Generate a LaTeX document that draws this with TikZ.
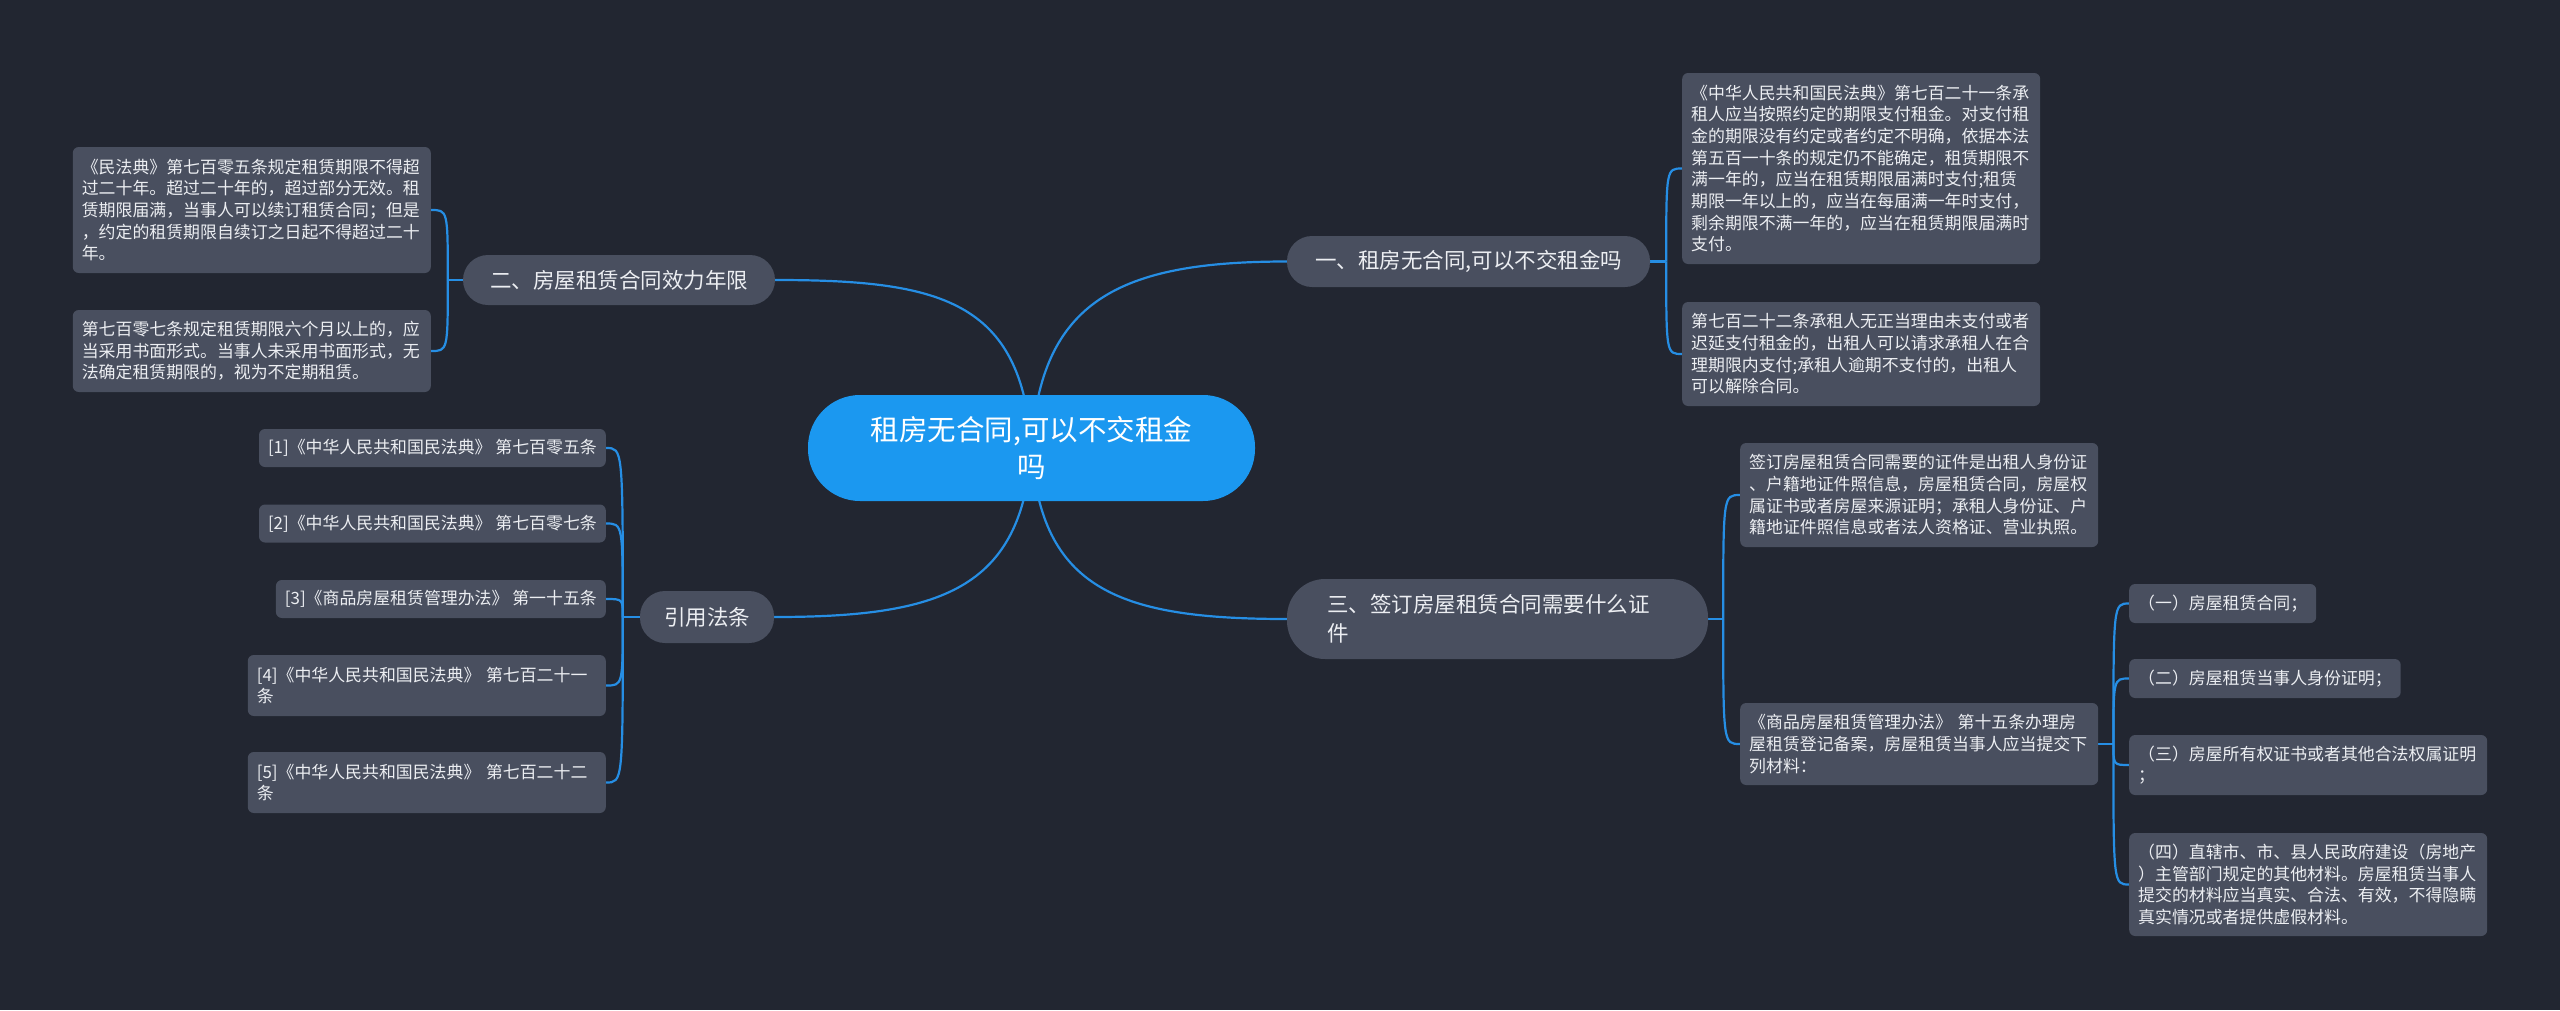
\documentclass[tikz,border=0pt]{standalone}
\usepackage{fontspec}
\setmainfont{Noto Sans CJK SC}
\usetikzlibrary{calc}
\definecolor{bgc}{RGB}{34,38,49}
\definecolor{nodec}{RGB}{73,79,95}
\definecolor{rootc}{RGB}{27,152,240}
\definecolor{linec}{RGB}{38,142,228}
\definecolor{txt}{RGB}{236,238,242}
\pgfdeclarelayer{back}
\pgfdeclarelayer{edges}
\pgfsetlayers{back,edges,main}
\begin{document}
\begin{tikzpicture}[x=1pt,y=-1pt,
  leaf/.style={fill=nodec, rounded corners=6pt, text=txt, inner xsep=9pt, inner ysep=3pt,
    font=\fontsize{16.9}{21.7}\selectfont, align=left},
  leafw/.style={leaf, text width=340pt},
  branch/.style={fill=nodec, text=txt, font=\fontsize{21.5}{29}\selectfont, inner sep=0pt, align=left},
  conn/.style={draw=linec, line width=2.2pt}]
\useasboundingbox (0,0) rectangle (2560,1010);
\begin{pgfonlayer}{back}
\fill[bgc] (0,0) rectangle (2560,1010);
\end{pgfonlayer}

% root
\node[fill=rootc, text=white, rounded corners=52pt, minimum width=447pt, minimum height=106pt,
  inner sep=0pt, font=\fontsize{28.5}{37}\selectfont, align=center] (root) at (1031.5,448)
  {租房无合同,可以不交租金\\吗};

% branches
\node[branch, minimum width=363pt, minimum height=51pt, rounded corners=25pt] (b1) at (1468.5,261.5)
  {一、租房无合同,可以不交租金吗};
\node[branch, minimum width=312pt, minimum height=50pt, rounded corners=25pt] (b2) at (619,280)
  {二、房屋租赁合同效力年限};
\node[branch, minimum width=421pt, minimum height=80pt, rounded corners=38pt, text width=341pt] (b3) at (1497.5,619)
  {三、签订房屋租赁合同需要什么证\\件};
\node[branch, minimum width=134pt, minimum height=52pt, rounded corners=25pt] (b4) at (707,617)
  {引用法条};

% leaves of branch 1
\node[leafw, minimum height=191pt, anchor=west] (l1a) at (1682,168.5)
  {《中华人民共和国民法典》第七百二十一条承\\租人应当按照约定的期限支付租金。对支付租\\金的期限没有约定或者约定不明确，依据本法\\第五百一十条的规定仍不能确定，租赁期限不\\满一年的，应当在租赁期限届满时支付;租赁\\期限一年以上的，应当在每届满一年时支付，\\剩余期限不满一年的，应当在租赁期限届满时\\支付。};
\node[leafw, minimum height=104pt, anchor=west] (l1b) at (1682,354)
  {第七百二十二条承租人无正当理由未支付或者\\迟延支付租金的，出租人可以请求承租人在合\\理期限内支付;承租人逾期不支付的，出租人\\可以解除合同。};

% leaves of branch 3
\node[leafw, minimum height=104pt, anchor=west] (l3a) at (1740,495)
  {签订房屋租赁合同需要的证件是出租人身份证\\、户籍地证件照信息，房屋租赁合同，房屋权\\属证书或者房屋来源证明；承租人身份证、户\\籍地证件照信息或者法人资格证、营业执照。};
\node[leafw, minimum height=82pt, anchor=west] (l3b) at (1740,744)
  {《商品房屋租赁管理办法》 第十五条办理房\\屋租赁登记备案，房屋租赁当事人应当提交下\\列材料：};

% sub-leaves
\node[leaf, minimum height=39pt, anchor=west] (s1) at (2129,603.5) {（一）房屋租赁合同；};
\node[leaf, minimum height=39pt, anchor=west] (s2) at (2129,678.5) {（二）房屋租赁当事人身份证明；};
\node[leafw, minimum height=60pt, anchor=west] (s3) at (2129,765)
  {（三）房屋所有权证书或者其他合法权属证明\\；};
\node[leafw, minimum height=103pt, anchor=west] (s4) at (2129,884.5)
  {（四）直辖市、市、县人民政府建设（房地产\\）主管部门规定的其他材料。房屋租赁当事人\\提交的材料应当真实、合法、有效，不得隐瞒\\真实情况或者提供虚假材料。};

% leaves of branch 2
\node[leafw, minimum height=126pt, anchor=east] (l2a) at (431,210)
  {《民法典》第七百零五条规定租赁期限不得超\\过二十年。超过二十年的，超过部分无效。租\\赁期限届满，当事人可以续订租赁合同；但是\\，约定的租赁期限自续订之日起不得超过二十\\年。};
\node[leafw, minimum height=82pt, anchor=east] (l2b) at (431,351)
  {第七百零七条规定租赁期限六个月以上的，应\\当采用书面形式。当事人未采用书面形式，无\\法确定租赁期限的，视为不定期租赁。};

% leaves of branch 4
\node[leaf, minimum height=38pt, anchor=east] (r1) at (606,448) {[1]《中华人民共和国民法典》 第七百零五条};
\node[leaf, minimum height=38pt, anchor=east] (r2) at (606,523.5) {[2]《中华人民共和国民法典》 第七百零七条};
\node[leaf, minimum height=38pt, anchor=east] (r3) at (606,599) {[3]《商品房屋租赁管理办法》 第一十五条};
\node[leafw, minimum height=61pt, anchor=east] (r4) at (606,685.5) {[4]《中华人民共和国民法典》 第七百二十一\\条};
\node[leafw, minimum height=61pt, anchor=east] (r5) at (606,782.5) {[5]《中华人民共和国民法典》 第七百二十二\\条};

% junctions
\coordinate (j1) at ($(b1.east)+(16,0)$);
\coordinate (j3) at ($(b3.east)+(15,0)$);
\coordinate (js) at ($(l3b.east)+(15,0)$);
\coordinate (j2) at ($(b2.west)+(-15,0)$);
\coordinate (j4) at ($(b4.west)+(-17,0)$);

\begin{pgfonlayer}{edges}
\draw[conn] (root.center) .. controls (1040,300) and (1120,261.5) .. (b1.west);
\draw[conn] (root.center) .. controls (1022,300) and (940,280) .. (b2.east);
\draw[conn] (root.center) .. controls (1040,590) and (1120,619) .. (b3.west);
\draw[conn] (root.center) .. controls (1022,590) and (940,617) .. (b4.east);

\draw[conn] (b1.east) -- (j1);
\draw[conn] (j1) .. controls (j1 |- l1a.west) .. (l1a.west);
\draw[conn] (j1) .. controls (j1 |- l1b.west) .. (l1b.west);

\draw[conn] (b3.east) -- (j3);
\draw[conn] (j3) .. controls (j3 |- l3a.west) .. (l3a.west);
\draw[conn] (j3) .. controls (j3 |- l3b.west) .. (l3b.west);

\draw[conn] (l3b.east) -- (js);
\draw[conn] (js) .. controls (js |- s1.west) .. (s1.west);
\draw[conn] (js) .. controls (js |- s2.west) .. (s2.west);
\draw[conn] (js) .. controls (js |- s3.west) .. (s3.west);
\draw[conn] (js) .. controls (js |- s4.west) .. (s4.west);

\draw[conn] (b2.west) -- (j2);
\draw[conn] (j2) .. controls (j2 |- l2a.east) .. (l2a.east);
\draw[conn] (j2) .. controls (j2 |- l2b.east) .. (l2b.east);

\draw[conn] (b4.west) -- (j4);
\draw[conn] (j4) .. controls (j4 |- r1.east) .. (r1.east);
\draw[conn] (j4) .. controls (j4 |- r2.east) .. (r2.east);
\draw[conn] (j4) .. controls (j4 |- r3.east) .. (r3.east);
\draw[conn] (j4) .. controls (j4 |- r4.east) .. (r4.east);
\draw[conn] (j4) .. controls (j4 |- r5.east) .. (r5.east);
\end{pgfonlayer}
\end{tikzpicture}
\end{document}
